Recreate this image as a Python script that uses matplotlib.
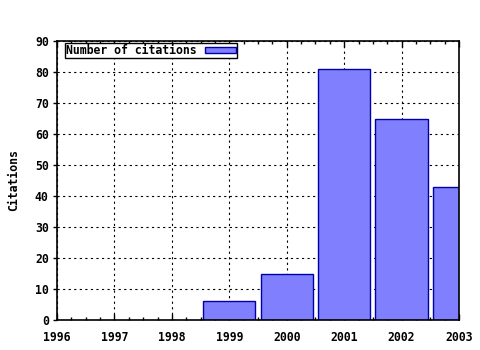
import matplotlib
matplotlib.use("Agg")
import matplotlib.pyplot as plt
from matplotlib.ticker import MultipleLocator

years = [1999, 2000, 2001, 2002, 2003]
citations = [6, 15, 81, 65, 43]
xticks = [1996, 1997, 1998, 1999, 2000, 2001, 2002, 2003]
yticks = [0, 10, 20, 30, 40, 50, 60, 70, 80, 90]

plt.rcParams["font.family"] = "DejaVu Sans Mono"
plt.rcParams["font.weight"] = "bold"
plt.rcParams["font.size"] = 8.3

W, H = 480, 350
left, right, top, bottom = 57, 459, 41, 320
fig = plt.figure(figsize=(W / 100, H / 100), dpi=100)
ax = fig.add_axes([left / W, 1 - bottom / H, (right - left) / W, (bottom - top) / H])

ax.bar(years, citations, width=0.91, color="#8080ff", edgecolor="#0000a8",
       linewidth=1.0, label="Number of citations", zorder=3)

ax.set_xlim(1996, 2003)
ax.set_ylim(0, 90)
ax.set_xticks(xticks)
ax.set_yticks(yticks)
ax.xaxis.set_minor_locator(MultipleLocator(0.25))
ax.grid(True, which="major", color="black", linestyle=(0, (2, 3)), linewidth=0.8, zorder=1)
ax.set_axisbelow(True)

# x ticks point inward on both the bottom and top borders
ax.tick_params(axis="x", which="both", bottom=True, top=True, direction="in")
ax.tick_params(axis="x", which="major", length=4, width=1, pad=8)
ax.tick_params(axis="x", which="minor", length=2.5, width=1)
ax.tick_params(axis="y", which="major", left=True, right=False, direction="out",
               length=3, width=1, pad=3)
for lab in ax.get_xticklabels() + ax.get_yticklabels():
    lab.set_fontweight("bold")

for sp in ax.spines.values():
    sp.set_linewidth(1.2)
    sp.set_color("black")
    sp.set_zorder(5)

ax.set_ylabel("Citations", fontweight="bold")
ax.yaxis.set_label_coords((20 - left) / (right - left), 0.5)

leg = ax.legend(loc="upper left", bbox_to_anchor=((63 - left) / (right - left), 1.0),
                markerfirst=False, fancybox=False, framealpha=1, edgecolor="black",
                borderpad=0.1, handlelength=2.7, handleheight=0.5, handletextpad=0.7,
                borderaxespad=0.15, prop={"weight": "bold", "size": 8.3})
leg.get_frame().set_linewidth(1.0)

fig.savefig("out.png", dpi=100)
